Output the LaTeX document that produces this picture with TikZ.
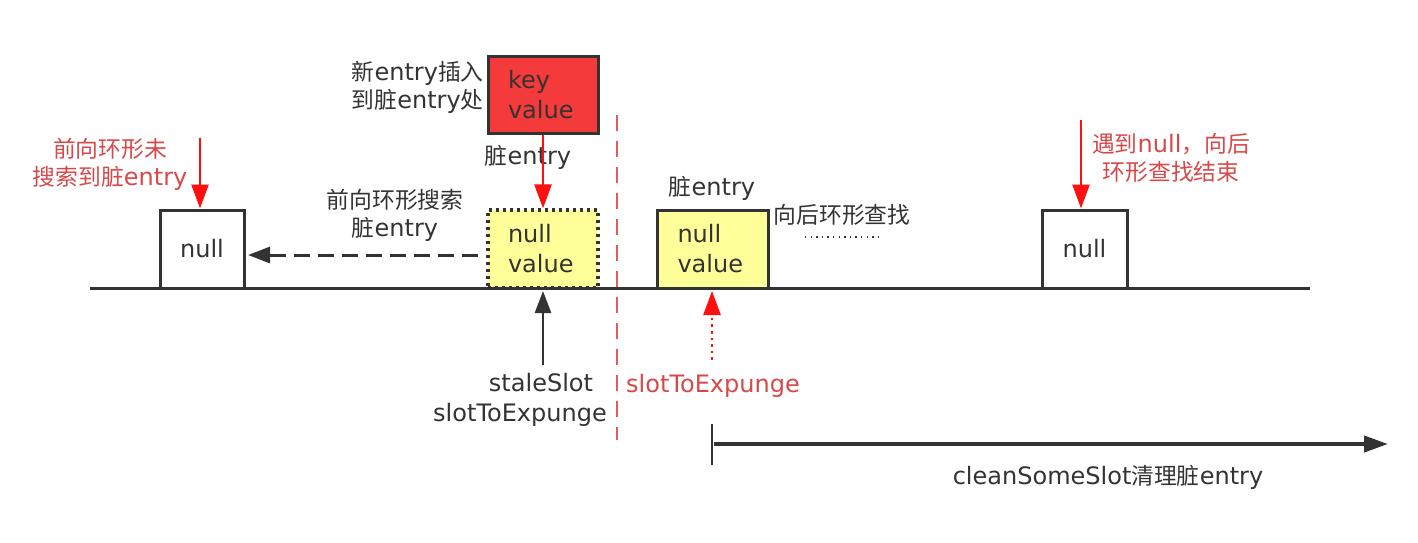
\documentclass[tikz,border=0pt]{standalone}
\usepackage{fontspec}
\setmainfont{DejaVu Sans}
\newfontfamily\cjk[Scale=0.95]{Noto Sans CJK SC}
\newcommand\cj[1]{{\cjk #1}}
\usetikzlibrary{arrows.meta,calc}
\definecolor{dk}{HTML}{333333}
\definecolor{rd}{HTML}{FF1010}
\definecolor{rtxt}{HTML}{D84848}
\definecolor{rdash}{HTML}{E85A5A}
\definecolor{ylw}{HTML}{FFFF99}
\definecolor{kvred}{HTML}{F43A3A}
\tikzset{
  slotbox/.style={draw=dk,line width=1.5pt,minimum height=39pt,inner sep=0pt,font=\fontsize{12}{15}\selectfont,text=dk},
  valbox/.style={slotbox,align=left,text width=35pt,minimum width=55pt},
  lbl/.style={font=\fontsize{12}{14}\selectfont,text=dk,align=center,inner sep=0pt},
  rlbl/.style={lbl,text=rtxt},
  redarr/.style={draw=rd,line width=1.3pt,-{Triangle[length=12pt,width=8.5pt]}},
  dkarr/.style={draw=dk,line width=1.3pt,-{Triangle[length=11pt,width=8pt]}},
}
\begin{document}
\begin{tikzpicture}[x=0.5pt,y=-0.5pt]
\useasboundingbox (0,0) rectangle (1418,542);
% slots
\node[slotbox,minimum width=42pt] (n1) at (202,249) {null};
\node[valbox,fill=ylw,dotted,line width=1.6pt] (ye1) at (543,249) {null\\value};
\node[valbox,fill=kvred,minimum height=38.5pt] (kv) at (543,94.5) {key\\value};
\node[valbox,fill=ylw,minimum width=55.5pt] (ye2) at (712.5,249) {null\\value};
\node[slotbox,minimum width=42.5pt] (n2) at (1084.5,249) {null};
% baseline
\draw[dk,line width=1.5pt] (90,288) -- (1310,288);
% labels
\node[rlbl] (lnf) at (110,164) {\cj{前向环形未}\\\cj{搜索到脏}entry};
\node[lbl] (lfw) at (395,215) {\cj{前向环形搜索}\\\cj{脏}entry};
\node[lbl,align=right,anchor=east] (lins) at (484,87) {\cj{新}entry\cj{插入}\\\cj{到脏}entry\cj{处}};
\node[lbl] (ldirty1) at (528,157) {\cj{脏}entry};
\node[lbl] (ldirty2) at (712,188) {\cj{脏}entry};
\node[lbl] (lbk) at (842,215) {\cj{向后环形查找}};
\node[rlbl] (lend) at (1171,158) {\cj{遇到}null\cj{，向后}\\\cj{环形查找结束}};
\node[lbl] (lstale) at (541,383) {staleSlot};
\node[lbl] (lste) at (520,415) {slotToExpunge};
\node[rlbl] (lste2) at (713,386) {slotToExpunge};
\node[lbl] (lclean) at (1108,477) {cleanSomeSlot\cj{清理脏}entry};
% coordinates
\coordinate (a1) at (200,138);
\coordinate (ds) at (478,255);
\coordinate (de) at (248,255);
\coordinate (bs) at (543,365);
\coordinate (be) at (543,291);
\coordinate (rs) at (712,360);
\coordinate (re) at (712,291);
\coordinate (a2) at (1081,120);
\coordinate (vt) at (617,115);
\coordinate (vb) at (617,440);
\coordinate (dots1) at (805,237);
\coordinate (dots2) at (882,237);
\coordinate (tt) at (712,424);
\coordinate (tb) at (712,465);
\coordinate (cs) at (714,444);
\coordinate (ce) at (1388,444);
% connectors
\draw[redarr] (a1) -- (a1 |- n1.north);
\draw[redarr] (kv.south) -- (ye1.north);
\draw[redarr] (a2) -- (a2 |- n2.north);
\draw[dkarr,dashed,dash pattern=on 8pt off 4pt,line width=1.5pt] (ds) -- (de);
\draw[dkarr] (bs) -- (be);
\draw[redarr,dotted,line width=1.3pt] (rs) -- (re);
\draw[rdash,line width=1.2pt,dash pattern=on 8pt off 5pt] (vt) -- (vb);
\draw[dk,line width=0.7pt,dash pattern=on 0.7pt off 2.1pt] (dots1) -- (dots2);
\draw[dk,line width=1.4pt] (tt) -- (tb);
\draw[dk,line width=2pt,-{Triangle[length=12pt,width=8pt]}] (cs) -- (ce);
\end{tikzpicture}
\end{document}
